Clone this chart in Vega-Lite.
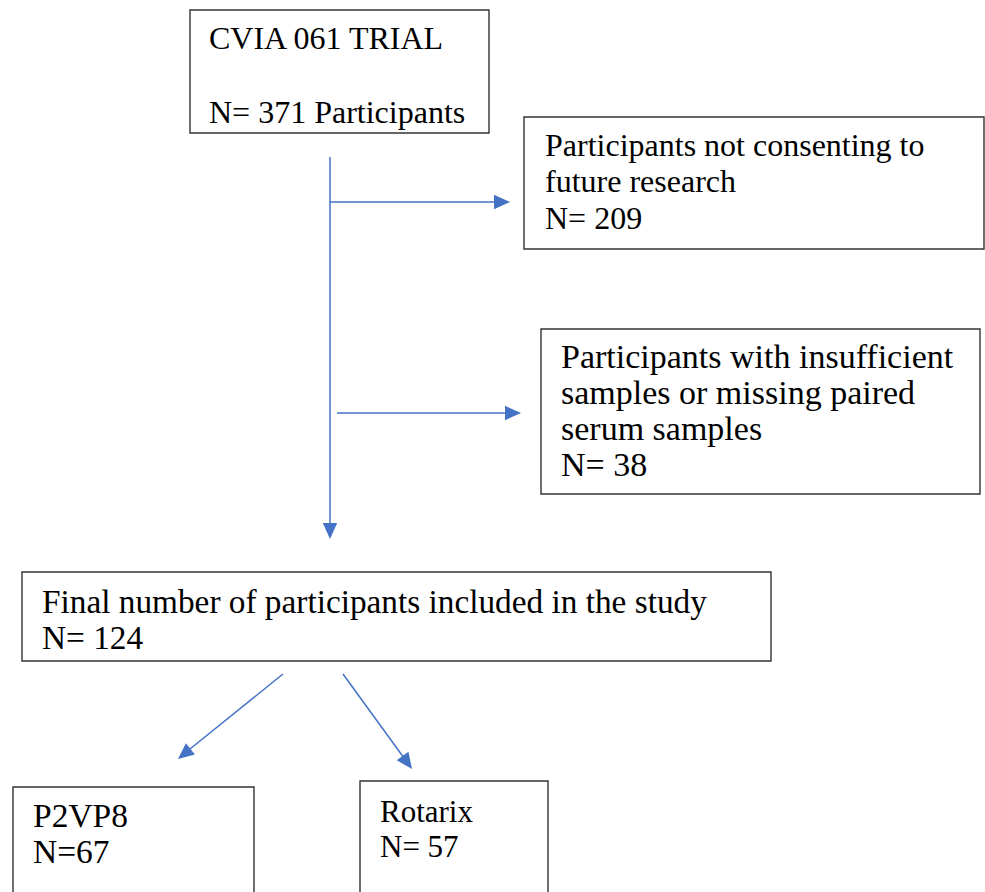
{
  "$schema": "https://vega.github.io/schema/vega-lite/v6.json",
  "width": 985,
  "height": 892,
  "padding": 0,
  "autosize": {"type": "none"},
  "background": "white",
  "config": {"view": {"stroke": null}},
  "datasets": {
    "boxes": [
      {"id": "trial", "x1": 190, "x2": 489, "y1": 10, "y2": 133},
      {"id": "consent", "x1": 524, "x2": 984, "y1": 117, "y2": 249},
      {"id": "insufficient", "x1": 541, "x2": 980, "y1": 329, "y2": 494},
      {"id": "final", "x1": 22, "x2": 771, "y1": 572, "y2": 661},
      {"id": "p2vp8", "x1": 13, "x2": 254, "y1": 787, "y2": 900},
      {"id": "rotarix", "x1": 360, "x2": 548, "y1": 781, "y2": 900}
    ],
    "lines": [
      {"id": "main", "x1": 330, "y1": 157, "x2": 330, "y2": 526},
      {"id": "toConsent", "x1": 330, "y1": 202, "x2": 496, "y2": 202},
      {"id": "toInsufficient", "x1": 337, "y1": 413, "x2": 508, "y2": 413},
      {"id": "toP2VP8", "x1": 283, "y1": 674, "x2": 190, "y2": 749},
      {"id": "toRotarix", "x1": 343, "y1": 674, "x2": 404, "y2": 758}
    ],
    "heads": [
      {"id": "main", "x": 330, "y": 539, "dir": 180},
      {"id": "toConsent", "x": 510, "y": 202, "dir": 90},
      {"id": "toInsufficient", "x": 521, "y": 413, "dir": 90},
      {"id": "toP2VP8", "x": 178, "y": 759, "dir": 231},
      {"id": "toRotarix", "x": 412, "y": 769, "dir": 144}
    ],
    "labels": [
      {"box": "trial", "text": "CVIA 061 TRIAL", "x": 209, "y": 49},
      {"box": "trial", "text": "N= 371 Participants", "x": 209, "y": 123},
      {"box": "consent", "text": "Participants not consenting to", "x": 545, "y": 156},
      {"box": "consent", "text": "future research", "x": 545, "y": 192},
      {"box": "consent", "text": "N= 209", "x": 545, "y": 229},
      {"box": "insufficient", "text": "Participants with insufficient", "x": 561, "y": 368},
      {"box": "insufficient", "text": "samples or missing paired", "x": 561, "y": 404},
      {"box": "insufficient", "text": "serum samples", "x": 561, "y": 440},
      {"box": "insufficient", "text": "N= 38", "x": 561, "y": 476},
      {"box": "final", "text": "Final number of participants included in the study", "x": 42, "y": 613},
      {"box": "final", "text": "N= 124", "x": 42, "y": 649},
      {"box": "p2vp8", "text": "P2VP8", "x": 33, "y": 827},
      {"box": "p2vp8", "text": "N=67", "x": 33, "y": 863},
      {"box": "rotarix", "text": "Rotarix", "x": 380, "y": 822},
      {"box": "rotarix", "text": "N= 57", "x": 380, "y": 857}
    ]
  },
  "layer": [
    {
      "data": {"name": "boxes"},
      "mark": {"type": "rect", "fill": "white", "stroke": "#333333", "strokeWidth": 1.4, "clip": true},
      "encoding": {
        "x": {"field": "x1", "type": "quantitative", "scale": {"domain": [0, 985], "nice": false, "zero": false}, "axis": null},
        "x2": {"field": "x2"},
        "y": {"field": "y1", "type": "quantitative", "scale": {"domain": [0, 892], "nice": false, "zero": false, "reverse": true}, "axis": null},
        "y2": {"field": "y2"}
      }
    },
    {
      "data": {"name": "lines"},
      "mark": {"type": "rule", "color": "#4472C4", "strokeWidth": 1.5},
      "encoding": {
        "x": {"field": "x1", "type": "quantitative"},
        "x2": {"field": "x2"},
        "y": {"field": "y1", "type": "quantitative"},
        "y2": {"field": "y2"}
      }
    },
    {
      "data": {"name": "heads"},
      "mark": {"type": "point", "shape": "M0,0L-0.45,1L0.45,1Z", "filled": true, "color": "#4472C4", "opacity": 1, "size": 1024},
      "encoding": {
        "x": {"field": "x", "type": "quantitative"},
        "y": {"field": "y", "type": "quantitative"},
        "angle": {"field": "dir", "type": "quantitative", "scale": null}
      }
    },
    {
      "data": {"name": "labels"},
      "mark": {"type": "text", "align": "left", "baseline": "alphabetic", "font": "Liberation Serif", "color": "black"},
      "encoding": {
        "x": {"field": "x", "type": "quantitative"},
        "y": {"field": "y", "type": "quantitative"},
        "text": {"field": "text"},
        "size": {
          "field": "box",
          "type": "nominal",
          "scale": {"type": "ordinal", "domain": ["trial", "consent", "insufficient", "final", "p2vp8", "rotarix"], "range": [32, 32, 34, 33.3, 33.5, 31]},
          "legend": null
        }
      }
    }
  ]
}
